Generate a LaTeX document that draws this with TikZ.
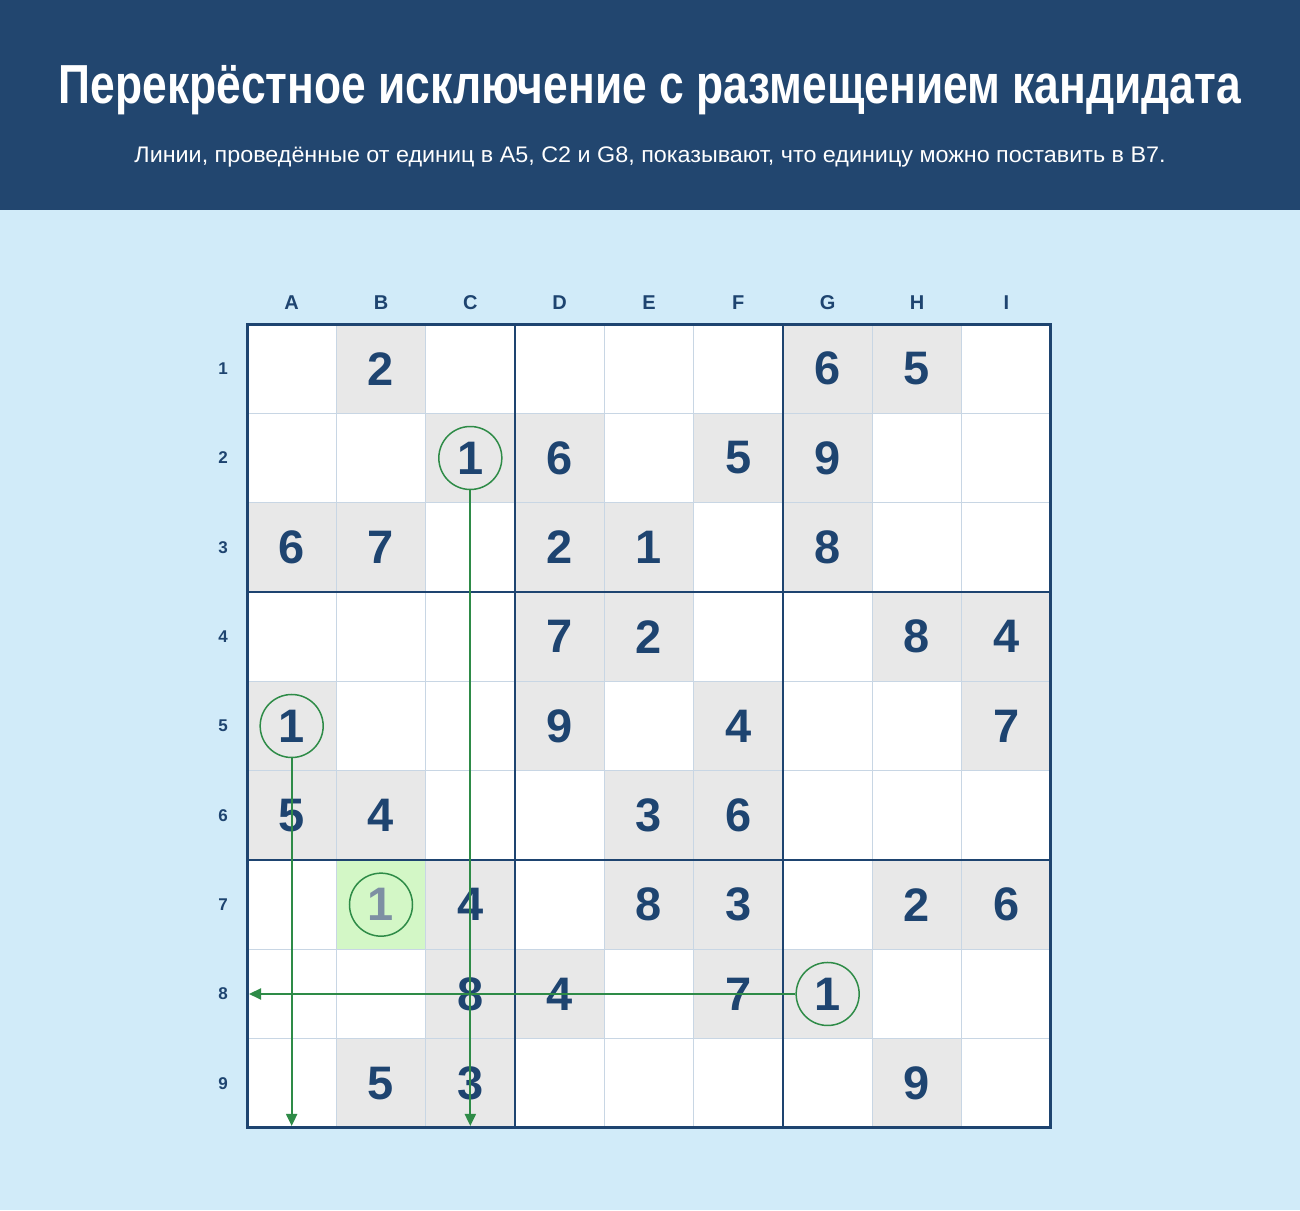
\documentclass[tikz,border=0pt]{standalone}
\usepackage{fontspec}
\setmainfont{Liberation Sans}
\usetikzlibrary{arrows.meta}

\definecolor{headbg}{HTML}{22466F}
\definecolor{pagebg}{HTML}{D1EBF9}
\definecolor{navy}{HTML}{1E4470}
\definecolor{gridthin}{HTML}{C8D6E4}
\definecolor{givenbg}{HTML}{E8E8E8}
\definecolor{candbg}{HTML}{D3F7C6}
\definecolor{candtxt}{HTML}{7D8FA3}
\definecolor{markgreen}{HTML}{2E8B47}

\tikzset{
  digit/.style={font=\fontsize{47}{47}\selectfont\bfseries, text=navy, inner sep=0pt},
  collabel/.style={font=\fontsize{20}{20}\selectfont\bfseries, text=navy, inner sep=0pt},
  rowlabel/.style={font=\fontsize{17}{17}\selectfont\bfseries, text=navy, inner sep=0pt},
  ring/.style={circle, draw=markgreen, line width=1.5pt, minimum size=63pt, inner sep=0pt},
  pointer/.style={draw=markgreen, line width=2pt, -{Triangle[length=12pt,width=11pt]}},
}

\begin{document}
\begin{tikzpicture}[x=1pt,y=-1pt]
 % background and header
 \fill[pagebg] (0,0) rectangle (1300,1210);
 \fill[headbg] (0,0) rectangle (1300,210);
 \node[text=white, inner sep=0pt, anchor=base] (title) at (650,103)
  {\resizebox{1182pt}{\height}{\fontsize{55}{55}\selectfont\bfseries Перекрёстное исключение с размещением кандидата}};
 \node[text=white, inner sep=0pt, anchor=base] (subtitle) at (650,162)
  {\resizebox{1031pt}{\height}{\fontsize{22.5}{22.5}\selectfont Линии, проведённые от единиц в A5, C2 и G8, показывают, что единицу можно поставить в B7.}};

 % board
 \def\cs{89.33}
 \def\ox{247}
 \def\oy{324}
 \fill[white] (\ox,\oy) rectangle ++(9*\cs,9*\cs);
 \foreach \c/\r in {2/1,7/1,8/1, 3/2,4/2,6/2,7/2, 1/3,2/3,4/3,5/3,7/3, 4/4,5/4,8/4,9/4,
                    1/5,4/5,6/5,9/5, 1/6,2/6,5/6,6/6, 3/7,5/7,6/7,8/7,9/7, 3/8,4/8,6/8,7/8, 2/9,3/9,8/9}
  \fill[givenbg] ({\ox+(\c-1)*\cs},{\oy+(\r-1)*\cs}) rectangle ++(\cs,\cs);
 \fill[candbg] ({\ox+\cs},{\oy+6*\cs}) rectangle ++(\cs,\cs);
 \foreach \i in {1,...,8} {
  \draw[gridthin, line width=1pt] ({\ox+\i*\cs},\oy) -- ++(0,9*\cs);
  \draw[gridthin, line width=1pt] (\ox,{\oy+\i*\cs}) -- ++(9*\cs,0);
 }
 \foreach \i in {3,6} {
  \draw[navy, line width=2.8pt] ({\ox+\i*\cs},\oy) -- ++(0,9*\cs);
  \draw[navy, line width=2.8pt] (\ox,{\oy+\i*\cs}) -- ++(9*\cs,0);
 }
 \draw[navy, line width=3pt] (\ox,\oy) rectangle ++(9*\cs,9*\cs);

 % labels
 \foreach \l [count=\i] in {A,B,C,D,E,F,G,H,I}
  \node[collabel] (col\l) at ({\ox+(\i-0.5)*\cs},303) {\l};
 \foreach \i in {1,...,9}
  \node[rowlabel] (row\i) at (223,{\oy+(\i-0.5)*\cs}) {\i};

 % givens
 \foreach \c/\r/\d in {2/1/2,7/1/6,8/1/5, 4/2/6,6/2/5,7/2/9, 1/3/6,2/3/7,4/3/2,5/3/1,7/3/8,
                       4/4/7,5/4/2,8/4/8,9/4/4, 4/5/9,6/5/4,9/5/7, 1/6/5,2/6/4,5/6/3,6/6/6,
                       3/7/4,5/7/8,6/7/3,8/7/2,9/7/6, 3/8/8,4/8/4,6/8/7, 2/9/5,3/9/3,8/9/9}
  \node[digit] (d\c\r) at ({\ox+(\c-0.5)*\cs},{\oy+(\r-0.5)*\cs}) {\d};

 % the three ones and the candidate
 \node[digit, ring] (a5) at ({\ox+0.5*\cs},{\oy+4.5*\cs}) {1};
 \node[digit, ring] (c2) at ({\ox+2.5*\cs},{\oy+1.5*\cs}) {1};
 \node[digit, ring] (g8) at ({\ox+6.5*\cs},{\oy+7.5*\cs}) {1};
 \node[digit, ring, text=candtxt] (b7) at ({\ox+1.5*\cs},{\oy+6.5*\cs}) {1};

 % elimination lines
 \coordinate (a5end) at ({\ox+0.5*\cs},{\oy+9*\cs-2});
 \coordinate (c2end) at ({\ox+2.5*\cs},{\oy+9*\cs-2});
 \coordinate (g8end) at (\ox+2,{\oy+7.5*\cs});
 \draw[pointer] (a5.south) -- (a5end);
 \draw[pointer] (c2.south) -- (c2end);
 \draw[pointer] (g8.west) -- (g8end);
\end{tikzpicture}
\end{document}
